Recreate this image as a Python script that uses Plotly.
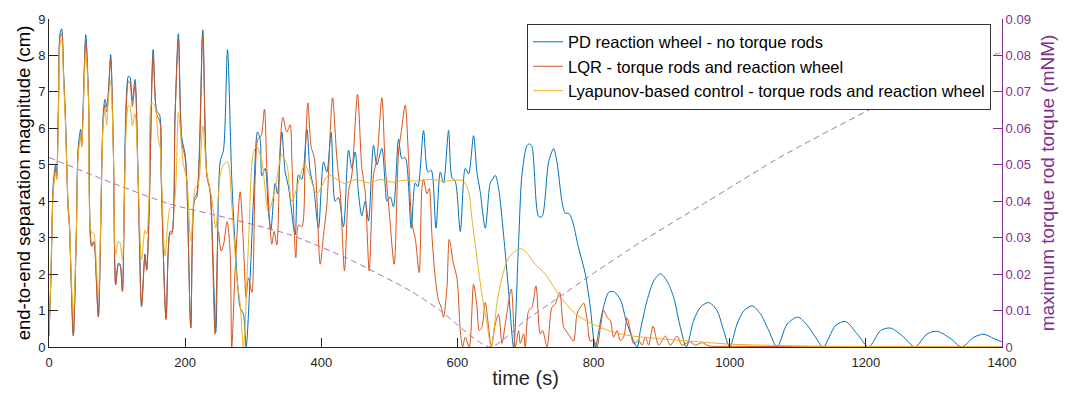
import plotly.graph_objects as go

# ---------------- data ----------------
pd_t = [0, 3, 6.4, 9.8, 11.3, 14, 16.2, 18.6, 21.5, 24, 28, 30, 35.7, 40, 43, 46.5, 48, 54, 58, 62.7, 66, 67.6, 72.5,
        79.8, 82.3, 84.8, 87.2, 90.6, 94.5, 98, 101.9, 104.3, 107.8, 116.6, 119, 122.5, 126.4, 131, 136, 141, 143.5, 147,
        153, 158, 162.7, 165, 172, 177.9, 180.3, 185.2, 190.1, 195, 199.9, 202.4, 208.3, 213.6, 217.1, 225.9, 231.8,
        236.7, 245, 251.4, 256.3, 262.2, 268.5, 273.4, 280.8, 285.6, 289.6, 295.5, 300.4, 306.3, 310.2, 312.7, 317.5,
        322.4, 325.9, 332.2, 335.6, 342, 346.9, 351.8, 361.6, 366.5, 371.4, 378.8, 383.7, 388.6, 395.9, 403.3, 408.2,
        414.5, 420.4, 425.3, 432.6, 440, 444.9, 449.8, 454.7, 459.6, 464.5, 469.4, 476.7, 481.7, 489, 493.9, 496.4,
        501.3, 506.1, 513.5, 518.4, 523.3, 532.1, 538, 541.9, 550.2, 556.6, 561.5, 568.4, 574.8, 579.6, 587, 591.9,
        596.8, 604.2, 611.5, 616.4, 623.7, 628.6, 633.5, 640.9, 648.2, 651.6, 655.6, 660.5, 667.8, 675.2, 682.5, 689.9,
        694.8, 702.2, 706, 709.5, 719.3, 724.2, 734, 741.3, 746.2, 753.6, 758.5, 763.4, 768.3, 778, 787.9, 795.2, 802.6,
        812.4, 822.2, 829.5, 839.3, 849.2, 863.9, 868.7, 878.5, 888.3, 898.1, 907.9, 917.7, 927.5, 936.3, 947.1, 956.9,
        969.1, 981.3, 991.2, 1000, 1010.8, 1020.6, 1032.9, 1045.1, 1057.4, 1069.6, 1084.4, 1100, 1113.8, 1126, 1137.3,
        1155.4, 1170, 1187.3, 1204.3, 1221.5, 1236.2, 1255.8, 1272, 1290, 1305, 1324.5, 1340.6, 1358.8, 1373.4, 1388,
        1400]
pd_v = [0.3, 2.0, 4.5, 5.0, 4.7, 6.8, 8.6, 8.73, 7.5, 6.4, 3.9, 3.35, 0.32, 3.0, 5.5, 5.97, 5.6, 8.57, 6.9, 2.8, 2.9, 2.65,
        0.86, 6.43, 6.8, 6.6, 7.0, 8.02, 5.5, 1.73, 2.3, 2.27, 1.54, 7.43, 7.4, 6.76, 7.34, 4.6, 1.13, 2.55, 2.14, 3.7,
        8.16, 6.5, 6.35, 4.6, 0.78, 3.17, 3.15, 6.4, 8.6, 5.75, 5.3, 4.6, 0.54, 4.08, 4.2, 8.7, 4.75, 4.3, 0.41, 5.08,
        5.4, 8.16, 4.6, 2.82, 1.09, 0.9, 0.0, 1.9, 4.08, 5.9, 5.7, 4.7, 4.9, 3.7, 3.2, 4.49, 4.2, 5.9, 4.8, 4.4, 3.08,
        4.72, 4.6, 5.98, 4.8, 4.4, 3.26, 5.08, 4.8, 5.89, 4.0, 4.1, 3.3, 5.4, 4.9, 5.35, 4.2, 3.6, 4.0, 3.46, 5.53, 5.0,
        5.45, 4.44, 4.0, 4.12, 3.85, 5.7, 5.17, 5.2, 3.26, 4.5, 4.4, 5.94, 4.8, 4.85, 3.26, 4.8, 4.5, 5.94, 4.65, 4.55,
        3.17, 4.9, 4.75, 5.8, 4.8, 4.26, 3.26, 4.5, 4.6, 4.71, 4.35, 3.08, 1.54, 0.0, 2.9, 4.72, 5.53, 5.57, 5.5, 3.58,
        3.58, 5.08, 5.44, 5.08, 3.99, 3.67, 3.67, 3.5, 2.72, 2.0, 1.09, 0.0, 0.92, 1.5, 1.52, 1.3, 0.64, 0.0, 0.45,
        1.27, 1.81, 2.01, 1.81, 1.36, 0.54, 0.0, 0.73, 1.09, 1.22, 1.0, 0.45, 0.0, 0.63, 0.99, 1.13, 0.91, 0.45, 0.0,
        0.63, 0.82, 0.6, 0.27, 0.0, 0.59, 0.7, 0.36, 0.0, 0.45, 0.52, 0.27, 0.0, 0.36, 0.43, 0.23, 0.0, 0.27, 0.35,
        0.23, 0.14]

lqr_t = [0, 3, 6.4, 9.8, 11.3, 14, 16.2, 18.6, 21.5, 24, 28, 30, 35.7, 40, 43, 46.5, 48, 54, 58, 62.7, 66, 67.6, 72.5,
         79.8, 82.3, 84.8, 87.2, 90.6, 94.5, 98, 101.9, 104.3, 107.8, 116.6, 119, 122.5, 126.4, 131, 136, 141, 143.5,
         147, 153, 158, 162.7, 165, 172, 177.9, 180.3, 185.2, 190.1, 195, 199.9, 202.4, 208.3, 213.6, 217.1, 225.9,
         231.8, 236.7, 244, 248.9, 252.8, 256.3, 261.7, 266, 268.5, 273.4, 280.8, 285.6, 289.6, 293, 298, 302.8, 306.8,
         311.6, 316.5, 320, 324.9, 327.3, 330.7, 334.7, 339.6, 343.5, 349.4, 354.3, 356.7, 362.6, 366.5, 371.4, 376.3,
         380.2, 385.1, 390, 398.4, 403.3, 408.2, 416.5, 422.9, 427.8, 434.1, 440, 444.9, 453.2, 459.6, 464.5, 470.4,
         476.7, 481.7, 489, 493.9, 499.8, 507.1, 513.5, 517.4, 523.3, 528.2, 533.1, 538, 543.9, 547.8, 550.2, 555.1,
         558.6, 562.5, 567.4, 572.3, 576.2, 579.6, 584.6, 588, 594.3, 599.3, 604.2, 607.6, 611.5, 617.4, 623.7, 628.7,
         632.1, 636, 640.9, 645.8, 649.7, 655.6, 660.5, 665.4, 670.3, 679.1, 685, 689.9, 692.3, 697.2, 699.7, 704.6,
         709.5, 715.4, 721.7, 725.2, 731.6, 738.9, 743.8, 750.2, 756.1, 761, 765.9, 770.7, 775.7, 780.5, 785.4, 790.4,
         795.2, 800.1, 805, 810, 814.8, 819.8, 824.6, 829.5, 834.5, 839.3, 844.2, 849.2, 854, 858.9, 866.3, 871.2, 876,
         880.9, 887.4, 895.7, 905.5, 912.8, 922.6, 930, 941.2, 949.6, 959.4, 969.1, 1000, 1100, 1400]
lqr_v = [0.3, 2.0, 4.4, 4.9, 4.6, 6.7, 8.5, 8.6, 7.4, 6.3, 3.8, 3.3, 0.3, 3.0, 5.4, 5.8, 5.5, 8.4, 6.8, 2.75, 2.85, 2.6,
         0.82, 6.3, 6.65, 6.45, 6.9, 7.9, 5.4, 1.7, 2.25, 2.25, 1.52, 7.3, 7.25, 6.6, 7.2, 4.5, 1.1, 2.5, 2.1, 3.6, 8.0,
         6.4, 6.2, 4.5, 0.75, 3.1, 3.1, 6.3, 8.45, 5.6, 5.2, 4.5, 0.52, 4.0, 4.1, 8.55, 4.7, 4.25, 0.35, 3.17, 2.63, 2.8,
         3.44, 2.63, 0.0, 2.09, 4.26, 2.82, 1.36, 1.9, 1.5, 4.6, 5.7, 5.8, 6.53, 4.9, 3.26, 2.82, 3.17, 2.8, 5.5, 6.3,
         5.9, 6.1, 5.17, 2.45, 3.35, 3.3, 5.17, 6.7, 5.5, 5.17, 2.27, 3.08, 3.9, 6.84, 5.17, 4.26, 2.09, 4.26, 4.72,
         6.93, 4.9, 4.26, 2.09, 4.71, 5.17, 6.84, 4.99, 3.72, 2.27, 5.35, 5.89, 6.64, 5.17, 3.4, 2.99, 2.04, 4.35, 4.6,
         4.2, 4.35, 3.08, 1.9, 1.27, 1.09, 0.82, 1.63, 2.95, 2.27, 1.9, 0.45, 0.0, 0.27, 0.0, 1.72, 1.1, 0.45, 0.54,
         1.22, 0.54, 0.0, 0.63, 0.9, 0.1, 0.63, 1.59, 0.0, 0.45, 0.1, 0.36, 0.0, 1.0, 1.09, 1.68, 0.36, 0.45, 0.0, 1.09,
         1.18, 1.5, 0.54, 0.41, 0.27, 0.16, 0.91, 1.09, 1.2, 0.78, 0.16, 0.2, 0.0, 0.54, 1.0, 0.82, 0.73, 0.27, 0.45,
         0.18, 0.27, 0.8, 0.45, 0.09, 0.18, 0.05, 0.27, 0.05, 0.57, 0.05, 0.3, 0.05, 0.3, 0.05, 0.15, 0.05, 0.12, 0.03,
         0.02, 0.01, 0.0]

lyap_t = [0, 2, 6.4, 9.8, 11.3, 14, 16.2, 18.6, 21.5, 24, 28, 30, 33, 35.7, 40, 43, 46.5, 48, 54, 58, 62.7, 66, 67.6,
          72.5, 79.8, 82.3, 84.8, 87.2, 90.6, 94.5, 98, 101.9, 104.3, 107.8, 116.6, 119, 122.5, 126.4, 131, 136, 141,
          143.5, 147, 150.9, 155.8, 160.7, 163.2, 165.6, 170.5, 177.9, 182.8, 190.1, 197.4, 202.4, 208.3, 214.6, 219.5,
          225.9, 231.8, 239.1, 245, 251.4, 256.3, 262.2, 268.5, 275.9, 280.8, 285.6, 293, 300.4, 305.3, 312.7, 322.4,
          332.2, 342, 349.4, 357, 376, 393.5, 410.5, 434, 451, 470, 487, 505, 523, 540, 560, 580, 600, 609, 616.4, 621.3,
          628.7, 636, 643.4, 649.7, 658, 665.4, 675.2, 685, 692.3, 699.7, 714.4, 729, 748.6, 773.2, 797.7, 822.2, 846.7,
          883.5, 950, 1000, 1050, 1100, 1200, 1300, 1400]
lyap_v = [0.3, 1.5, 4.3, 4.8, 4.6, 6.5, 8.3, 8.45, 7.3, 6.2, 3.95, 3.4, 1.8, 0.9, 3.0, 5.3, 5.8, 5.5, 8.1, 6.8, 3.13, 3.13,
          2.9, 1.45, 6.2, 6.5, 6.1, 6.8, 7.3, 5.4, 2.55, 2.9, 2.85, 2.4, 6.62, 6.6, 6.07, 6.4, 4.6, 2.4, 3.2, 3.1, 4.2,
          6.7, 6.6, 5.67, 5.5, 4.5, 2.5, 3.8, 3.85, 6.43, 5.0, 4.6, 2.9, 4.35, 4.5, 6.07, 4.8, 4.08, 3.26, 4.7, 5.0,
          5.08, 3.9, 1.9, 1.18, 0.0, 2.82, 5.35, 5.5, 5.1, 3.7, 4.35, 5.27, 5.0, 4.0, 5.0, 4.21, 4.71, 4.49, 4.6, 4.5,
          4.6, 4.52, 4.58, 4.55, 4.6, 4.55, 4.58, 4.55, 4.26, 3.53, 2.45, 1.45, 0.64, 0.0, 1.18, 1.9, 2.45, 2.63, 2.7,
          2.63, 2.27, 2.0, 1.45, 0.91, 0.64, 0.45, 0.33, 0.25, 0.15, 0.08, 0.05, 0.03, 0.01, 0.005, 0.0]

torque_t = [0, 100, 178, 260, 354, 436, 531, 572, 648, 700, 749, 798, 871, 967, 1077, 1236, 1383, 1396, 1400]
torque_v = [0.052, 0.0445, 0.0392, 0.0355, 0.0308, 0.0245, 0.0154, 0.0104, 0.0, 0.0073, 0.0136, 0.020, 0.029, 0.0399,
            0.0524, 0.068, 0.0802, 0.0806, 0.0815]

series_names = ["PD reaction wheel - no torque rods",
                "LQR - torque rods and reaction wheel",
                "Lyapunov-based control - torque rods and reaction wheel"]
x_ticks = [0, 200, 400, 600, 800, 1000, 1200, 1400]
y_ticks = [0, 1, 2, 3, 4, 5, 6, 7, 8, 9]
y2_ticks = [0, 0.01, 0.02, 0.03, 0.04, 0.05, 0.06, 0.07, 0.08, 0.09]
y2_labels = ["0", "0.01", "0.02", "0.03", "0.04", "0.05", "0.06", "0.07", "0.08", "0.09"]

# ---------------- figure ----------------
BLUE, ORANGE, YELLOW, PURPLE = "#0072BD", "#D95319", "#EDB120", "#7E2F8E"
AX = "#262626"
FONT = "Liberation Sans, Arial, sans-serif"

fig = go.Figure()
for t, v, name, col in [(pd_t, pd_v, series_names[0], BLUE),
                        (lqr_t, lqr_v, series_names[1], ORANGE),
                        (lyap_t, lyap_v, series_names[2], YELLOW)]:
    fig.add_trace(go.Scatter(x=t, y=v, name=name, mode="lines",
                             line=dict(color=col, width=1, shape="spline", smoothing=0.8)))

fig.add_trace(go.Scatter(x=torque_t, y=torque_v, mode="lines", yaxis="y2", showlegend=False,
                         line=dict(color="#A86FBA", width=1, dash="6px,4px", shape="spline", smoothing=0.6)))

fig.update_layout(
    width=1070, height=399,
    margin=dict(l=49, r=68, t=16, b=52),
    paper_bgcolor="white", plot_bgcolor="white",
    font=dict(family=FONT, color=AX, size=13),
    xaxis=dict(range=[0, 1400], tickvals=x_ticks, ticks="inside", ticklen=9, tickcolor=AX,
               showline=True, linecolor=AX, linewidth=1, showgrid=False, zeroline=False,
               tickfont=dict(size=13, color=AX), ticklabelstandoff=3,
               title=dict(text="time (s)", font=dict(size=20, color=AX), standoff=2)),
    yaxis=dict(range=[0, 9], tickvals=y_ticks, ticks="inside", ticklen=9, tickcolor=AX,
               showline=True, linecolor=AX, linewidth=1, showgrid=False, zeroline=False,
               tickfont=dict(size=13, color=AX),
               title=dict(text="end-to-end separation magnitude (cm)", font=dict(size=18.5, color="#000000"),
                          standoff=2)),
    yaxis2=dict(range=[0, 0.09], tickvals=y2_ticks, ticktext=y2_labels, overlaying="y", side="right",
                ticks="inside", ticklen=9, tickcolor=PURPLE,
                showline=True, linecolor=PURPLE, linewidth=1, showgrid=False, zeroline=False,
                tickfont=dict(size=13, color=PURPLE),
                title=dict(text="maximum torque rod torque (mNM)", font=dict(size=19, color=PURPLE),
                           standoff=10)),
    legend=dict(x=0.9885, y=0.986, xanchor="right", yanchor="top",
                bgcolor="white", bordercolor="#333333", borderwidth=1,
                font=dict(size=16.5, color="#000000", family=FONT),
                tracegroupgap=0, itemwidth=30),
    showlegend=True,
)

fig.write_html("out.html")
